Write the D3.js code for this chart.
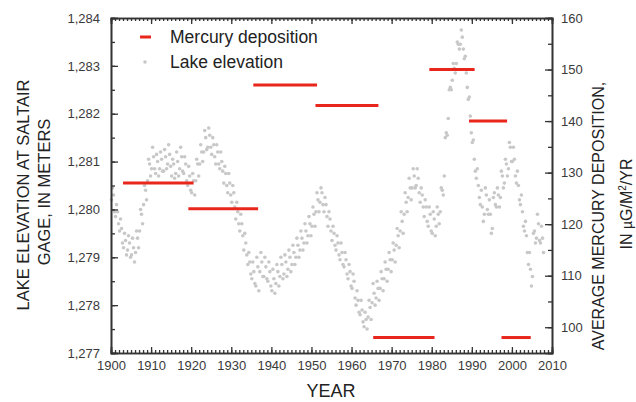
<!DOCTYPE html>
<html>
<head>
<meta charset="utf-8">
<script src="https://cdn.jsdelivr.net/npm/d3@7"></script>
<style>
  html, body { margin: 0; padding: 0; background: #fff; }
  svg { display: block; font-family: "Liberation Sans", Arial, sans-serif; }
</style>
</head>
<body>
<svg id="chart" width="636" height="402"></svg>
<script>
// Mercury deposition periods (start year, end year, µg/m²/yr)
const hgStart = [1903, 1919.3, 1935.5, 1951, 1965.4, 1979.4, 1989.3, 1997.4];
const hgEnd   = [1920.6, 1936.7, 1951.4, 1966.7, 1980.7, 1990.7, 1998.8, 2004.7];
const hgValue = [128, 123, 147, 143, 98, 150, 140, 98];

// Lake elevation at Saltair gage, metres; four readings per year, grouped by decade
const lake1900s = [
  1280.20, 1280.45, 1280.30, 1279.95,  1279.85, 1280.10, 1279.95, 1279.70,
  1279.55, 1279.80, 1279.60, 1279.30,  1279.20, 1279.50, 1279.35, 1279.05,
  1279.15, 1279.45, 1279.30, 1279.00,  1279.05, 1279.40, 1279.20, 1278.90,
  1279.10, 1279.55, 1279.40, 1279.20,  1279.55, 1280.00, 1279.90, 1279.70,
  1280.10, 1280.50, 1280.40, 1280.20,  1280.60, 1281.05, 1280.95, 1280.70
];
const lake1910s = [
  1280.85, 1281.30, 1281.10, 1280.85,  1280.75, 1281.15, 1281.00, 1280.70,
  1280.85, 1281.20, 1281.05, 1280.80,  1280.80, 1281.25, 1281.10, 1280.85,
  1280.95, 1281.35, 1281.15, 1280.90,  1280.70, 1281.05, 1280.95, 1280.65,
  1280.75, 1281.20, 1281.00, 1280.70,  1280.85, 1281.30, 1281.10, 1280.80,
  1280.75, 1281.10, 1280.95, 1280.60,  1280.50, 1280.90, 1280.70, 1280.40
];
const lake1920s = [
  1280.35, 1280.75, 1280.60, 1280.30,  1280.60, 1281.05, 1280.95, 1280.70,
  1280.95, 1281.35, 1281.20, 1281.00,  1281.20, 1281.65, 1281.50, 1281.25,
  1281.30, 1281.70, 1281.55, 1281.30,  1281.15, 1281.50, 1281.35, 1281.10,
  1280.95, 1281.35, 1281.20, 1280.95,  1280.85, 1281.20, 1281.00, 1280.80,
  1280.55, 1280.90, 1280.75, 1280.50,  1280.35, 1280.75, 1280.55, 1280.30
];
const lake1930s = [
  1280.15, 1280.50, 1280.35, 1280.05,  1279.80, 1280.15, 1279.95, 1279.70,
  1279.55, 1279.90, 1279.70, 1279.45,  1279.15, 1279.50, 1279.30, 1279.05,
  1278.85, 1279.10, 1278.90, 1278.65,  1278.55, 1278.90, 1278.70, 1278.45,
  1278.40, 1279.00, 1278.80, 1278.30,  1278.70, 1279.10, 1278.90, 1278.60,
  1278.60, 1279.00, 1278.80, 1278.55,  1278.50, 1278.90, 1278.70, 1278.40
];
const lake1940s = [
  1278.30, 1278.75, 1278.55, 1278.25,  1278.45, 1278.85, 1278.70, 1278.40,
  1278.60, 1279.00, 1278.85, 1278.55,  1278.65, 1279.05, 1278.90, 1278.60,
  1278.75, 1279.15, 1279.00, 1278.70,  1278.85, 1279.25, 1279.10, 1278.85,
  1279.00, 1279.40, 1279.25, 1279.00,  1279.15, 1279.55, 1279.40, 1279.15,
  1279.30, 1279.70, 1279.55, 1279.30,  1279.45, 1279.85, 1279.70, 1279.45
];
const lake1950s = [
  1279.65, 1280.05, 1279.90, 1279.65,  1279.95, 1280.35, 1280.20, 1279.95,
  1280.15, 1280.45, 1280.35, 1280.10,  1279.95, 1280.25, 1280.10, 1279.85,
  1279.65, 1279.95, 1279.80, 1279.55,  1279.35, 1279.65, 1279.50, 1279.25,
  1279.15, 1279.45, 1279.30, 1279.05,  1278.95, 1279.30, 1279.10, 1278.85,
  1278.80, 1279.10, 1278.95, 1278.65,  1278.55, 1278.85, 1278.70, 1278.40
];
const lake1960s = [
  1278.35, 1278.65, 1278.50, 1278.15,  1278.00, 1278.30, 1278.10, 1277.85,
  1277.80, 1278.10, 1277.90, 1277.65,  1277.55, 1277.85, 1277.70, 1277.50,
  1277.75, 1278.10, 1277.95, 1277.70,  1278.05, 1278.45, 1278.25, 1278.00,
  1278.15, 1278.50, 1278.35, 1278.10,  1278.35, 1278.70, 1278.55, 1278.30,
  1278.55, 1278.90, 1278.75, 1278.50,  1278.75, 1279.10, 1278.95, 1278.70
];
const lake1970s = [
  1278.95, 1279.30, 1279.15, 1278.90,  1279.25, 1279.60, 1279.45, 1279.20,
  1279.55, 1279.95, 1279.75, 1279.50,  1279.90, 1280.35, 1280.15, 1279.95,
  1280.25, 1280.65, 1280.45, 1280.20,  1280.45, 1280.85, 1280.70, 1280.45,
  1280.50, 1280.85, 1280.65, 1280.35,  1280.15, 1280.45, 1280.30, 1280.05,
  1279.85, 1280.20, 1280.05, 1279.75,  1279.65, 1280.05, 1279.90, 1279.55
];
const lake1980s = [
  1279.50, 1279.95, 1279.80, 1279.45,  1279.65, 1280.05, 1279.90, 1279.70,
  1279.95, 1280.45, 1280.40, 1280.30,  1280.70, 1281.50, 1281.60, 1281.55,
  1281.90, 1282.50, 1282.55, 1282.50,  1282.70, 1283.05, 1282.95, 1282.85,
  1283.05, 1283.50, 1283.45, 1283.35,  1283.45, 1283.75, 1283.60, 1283.35,
  1283.15, 1283.20, 1282.85, 1282.55,  1282.30, 1282.35, 1281.95, 1281.60
];
const lake1990s = [
  1281.40, 1281.45, 1281.05, 1280.80,  1280.65, 1280.85, 1280.50, 1280.25,
  1280.10, 1280.40, 1280.05, 1279.75,  1279.90, 1280.45, 1280.30, 1280.00,
  1279.90, 1280.20, 1279.90, 1279.50,  1279.60, 1280.25, 1280.35, 1280.10,
  1280.05, 1280.45, 1280.30, 1280.05,  1280.25, 1280.80, 1280.70, 1280.45,
  1280.55, 1281.05, 1280.95, 1280.70,  1280.85, 1281.40, 1281.30, 1281.00
];
const lake2000s = [
  1281.00, 1281.30, 1281.05, 1280.70,  1280.55, 1280.80, 1280.50, 1280.20,
  1280.10, 1280.30, 1279.95, 1279.65,  1279.55, 1279.75, 1279.45, 1279.10,
  1278.85, 1279.10, 1278.75, 1278.40,  1278.60, 1279.50, 1279.55, 1279.30,
  1279.40, 1279.90, 1279.70, 1279.35,  1279.30, 1279.65, 1279.40, 1279.10
];
const decades = [1900, 1910, 1920, 1930, 1940, 1950, 1960, 1970, 1980, 1990, 2000];
const lakeByDecade = [lake1900s, lake1910s, lake1920s, lake1930s, lake1940s,
  lake1950s, lake1960s, lake1970s, lake1980s, lake1990s, lake2000s];

// Axis tick values
const yearTicks = [1900, 1910, 1920, 1930, 1940, 1950, 1960, 1970, 1980, 1990, 2000, 2010];
const elevTicks = [1277, 1278, 1279, 1280, 1281, 1282, 1283, 1284];
const hgTicks = [100, 110, 120, 130, 140, 150, 160];

const svg = d3.select("#chart");
const plotLeft = 111, plotRight = 552, plotTop = 18, plotBottom = 353;
const axisColor = "#333";
const textColor = "#3a3a3a";

const x = d3.scaleLinear().domain([1900, 2010]).range([plotLeft, plotRight]);
const yElev = d3.scaleLinear().domain([1277, 1284]).range([plotBottom, plotTop]);
const yHg = d3.scaleLinear().domain([95, 160]).range([plotBottom, plotTop]);

// Flatten lake readings into dated samples (quarter-year positions)
const lake = [];
lakeByDecade.forEach((vals, d) => {
  vals.forEach((v, i) => {
    lake.push({ t: decades[d] + Math.floor(i / 4) + ((i % 4) + 0.5) / 4, v });
  });
});

// Lake elevation scatter
svg.append("g")
  .selectAll("circle")
  .data(lake)
  .join("circle")
  .attr("cx", d => x(d.t))
  .attr("cy", d => yElev(d.v))
  .attr("r", 1.8)
  .attr("fill", "#c8c8c8");

// Mercury deposition segments
const hg = hgValue.map((v, i) => ({ s: hgStart[i], e: hgEnd[i], v }));
svg.append("g")
  .selectAll("line")
  .data(hg)
  .join("line")
  .attr("x1", d => x(d.s))
  .attr("x2", d => x(d.e))
  .attr("y1", d => yHg(d.v))
  .attr("y2", d => yHg(d.v))
  .attr("stroke", "#e8261c")
  .attr("stroke-width", 3);

function styleAxis(g, showLabels) {
  g.selectAll(".domain").attr("stroke", axisColor).attr("stroke-width", 1.6);
  g.selectAll(".tick line").attr("stroke", axisColor).attr("stroke-width", 1.3);
  g.selectAll("text")
    .attr("fill", textColor)
    .style("font-size", "13px")
    .style("font-family", "'Liberation Sans', Arial, sans-serif")
    .attr("display", showLabels ? null : "none");
}

const minorYears = d3.range(1900, 2011);
const minorElev = d3.range(1277, 1284.01, 0.5);
const minorHg = d3.range(95, 160.01, 5);

// Minor ticks (all four sides)
svg.append("g").attr("transform", `translate(0,${plotBottom})`)
  .call(d3.axisBottom(x).tickValues(minorYears).tickSize(-3).tickFormat(""))
  .call(g => styleAxis(g, false));
svg.append("g").attr("transform", `translate(0,${plotTop})`)
  .call(d3.axisTop(x).tickValues(minorYears).tickSize(-3).tickFormat(""))
  .call(g => styleAxis(g, false));
svg.append("g").attr("transform", `translate(${plotLeft},0)`)
  .call(d3.axisLeft(yElev).tickValues(minorElev).tickSize(-4).tickFormat(""))
  .call(g => styleAxis(g, false));
svg.append("g").attr("transform", `translate(${plotRight},0)`)
  .call(d3.axisRight(yHg).tickValues(minorHg).tickSize(-4).tickFormat(""))
  .call(g => styleAxis(g, false));

// Major ticks and labels
svg.append("g").attr("transform", `translate(0,${plotBottom})`)
  .call(d3.axisBottom(x).tickValues(yearTicks).tickSize(-6).tickPadding(8).tickFormat(d3.format("d")))
  .call(g => styleAxis(g, true));
svg.append("g").attr("transform", `translate(0,${plotTop})`)
  .call(d3.axisTop(x).tickValues(yearTicks).tickSize(-6).tickFormat(""))
  .call(g => styleAxis(g, false));
svg.append("g").attr("transform", `translate(${plotLeft},0)`)
  .call(d3.axisLeft(yElev).tickValues(elevTicks).tickSize(-7).tickPadding(11).tickFormat(d3.format(",")))
  .call(g => styleAxis(g, true));
svg.append("g").attr("transform", `translate(${plotRight},0)`)
  .call(d3.axisRight(yHg).tickValues(hgTicks).tickSize(-7).tickPadding(9).tickFormat(d3.format("d")))
  .call(g => styleAxis(g, true));

// Axis titles
svg.append("text")
  .attr("x", 331).attr("y", 397)
  .attr("text-anchor", "middle").attr("fill", "#222")
  .style("font-size", "18px")
  .text("YEAR");

const leftTitle = svg.append("text")
  .attr("transform", "rotate(-90)")
  .attr("text-anchor", "middle").attr("fill", "#222")
  .style("font-size", "16.5px");
leftTitle.append("tspan").attr("x", -195).attr("y", 29).text("LAKE ELEVATION AT SALTAIR");
leftTitle.append("tspan").attr("x", -192).attr("y", 50).text("GAGE, IN METERS");

const rightTitle = svg.append("text")
  .attr("transform", "rotate(-90)")
  .attr("text-anchor", "middle").attr("fill", "#222")
  .style("font-size", "16px");
rightTitle.append("tspan").attr("x", -216).attr("y", 604).text("AVERAGE MERCURY DEPOSITION,");
const rt2 = rightTitle.append("tspan").attr("x", -204).attr("y", 632);
rt2.append("tspan").text("IN ");
rt2.append("tspan").style("font-size", "14px").text("µ");
rt2.append("tspan").text("G/M");
rt2.append("tspan").attr("dy", -6).style("font-size", "10px").text("2");
rt2.append("tspan").attr("dy", 6).text("/YR");

// Legend
const legend = svg.append("g");
legend.append("line")
  .attr("x1", 140).attr("x2", 151).attr("y1", 37).attr("y2", 37)
  .attr("stroke", "#e8261c").attr("stroke-width", 3);
legend.append("text")
  .attr("x", 170).attr("y", 43).attr("fill", "#222")
  .style("font-size", "17.5px").text("Mercury deposition");
legend.append("circle")
  .attr("cx", 145).attr("cy", 62).attr("r", 1.8).attr("fill", "#c8c8c8");
legend.append("text")
  .attr("x", 170).attr("y", 68).attr("fill", "#222")
  .style("font-size", "17.5px").text("Lake elevation");
</script>
</body>
</html>
